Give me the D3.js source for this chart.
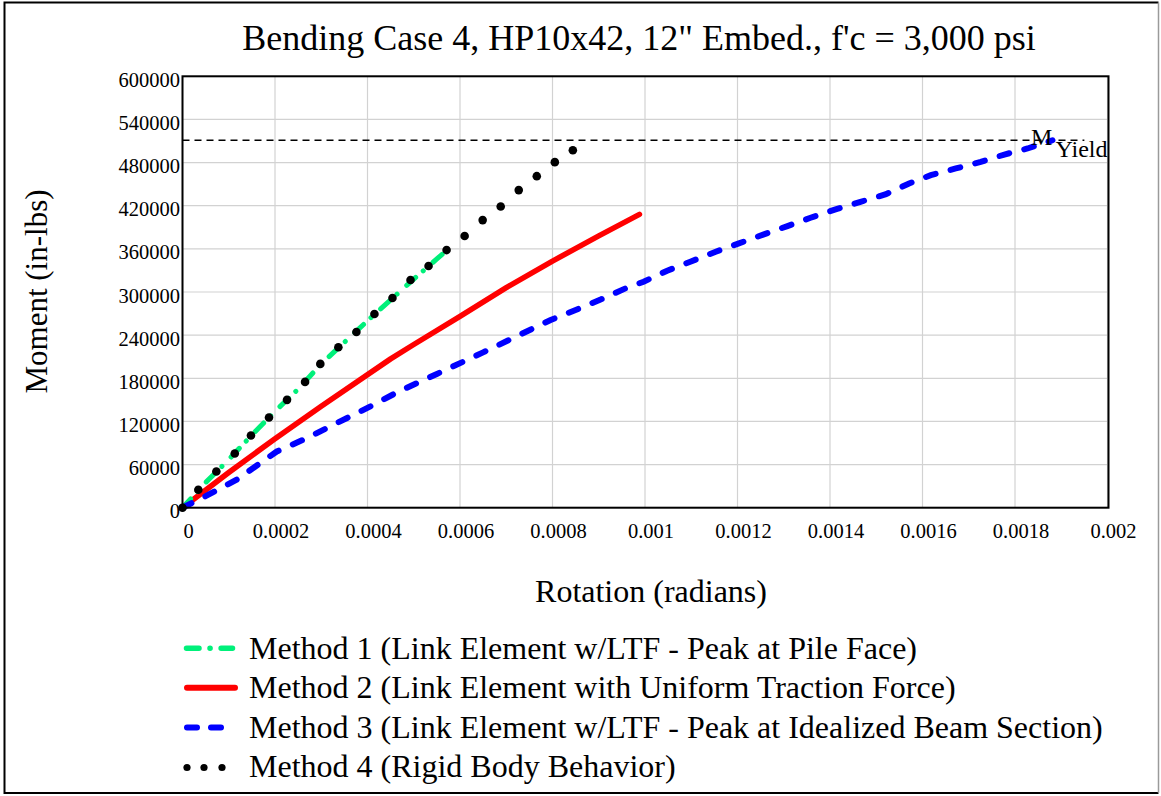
<!DOCTYPE html>
<html>
<head>
<meta charset="utf-8">
<script src="https://cdn.jsdelivr.net/npm/d3@7"></script>
<style>
  html, body { margin: 0; padding: 0; background: #fff; }
  svg { display: block; }
  text { font-family: "Liberation Serif", "Times New Roman", serif; fill: #000; }
</style>
</head>
<body>
<svg id="chart" width="1161" height="796"></svg>
<script>
// Tick values for both axes
const xTicks = [0, 0.0002, 0.0004, 0.0006, 0.0008, 0.001, 0.0012, 0.0014, 0.0016, 0.0018, 0.002];
const yTicks = [0, 60000, 120000, 180000, 240000, 300000, 360000, 420000, 480000, 540000, 600000];

// Method 1: link element w/LTF, peak at pile face
const m1Rot = [0, 0.00005, 0.0001, 0.00015, 0.0002, 0.00025, 0.0003, 0.00035, 0.0004, 0.00045, 0.0005, 0.00055, 0.000575];
const m1Mom = [0, 35000, 67000, 101000, 134000, 165000, 200000, 230000, 260000, 289000, 318000, 346000, 360000];

// Method 2: link element with uniform traction force
const m2Rot = [0, 0.0001, 0.0002, 0.0003, 0.00045, 0.0005, 0.0006, 0.0007, 0.0008, 0.0009, 0.000988];
const m2Mom = [0, 49000, 96000, 141000, 207000, 227000, 266000, 306000, 343000, 378000, 408000];

// Method 3: link element w/LTF, peak at idealized beam section
const m3Rot = [0, 0.00005, 0.000117, 0.000204, 0.000269, 0.000326, 0.000377, 0.00042, 0.000467, 0.00055, 0.00065,
  0.000796, 0.00085, 0.000904, 0.000958, 0.000997, 0.001048, 0.001098, 0.001153, 0.001203, 0.001257, 0.001308,
  0.001358, 0.001412, 0.001466, 0.001521, 0.001571, 0.001618, 0.001672, 0.001726, 0.001777, 0.001827, 0.001871, 0.001881];
const m3Mom = [0, 16000, 38900, 78200, 96800, 115300, 131500, 145400, 161500, 186000, 216000,
  261100, 275000, 289500, 305100, 314300, 329600, 342100, 356000, 367600, 380100, 391700,
  403200, 414900, 425400, 436100, 451000, 462500, 471800, 481000, 491200, 499600, 508800, 511100];

// Method 4: rigid body behavior
const m4Rot = [0, 0.0000342, 0.0000732, 0.000113, 0.000148, 0.000187, 0.000226, 0.000265, 0.000298, 0.000337,
  0.000376, 0.000415, 0.000454, 0.000493, 0.000532, 0.000571, 0.000610, 0.000649, 0.000688, 0.000727,
  0.000766, 0.000805, 0.000844];
const m4Mom = [0, 25000, 50400, 75400, 100400, 125400, 150000, 175000, 200000, 223200,
  244400, 269400, 291700, 316700, 336100, 358300, 377800, 400000, 419000, 441700,
  461100, 480600, 497200];

// Yield moment
const mYield = 511000;
const mYieldEnd = 0.00195;

const legendLabels = [
  "Method 1 (Link Element w/LTF - Peak at Pile Face)",
  "Method 2 (Link Element with Uniform Traction Force)",
  "Method 3 (Link Element w/LTF - Peak at Idealized Beam Section)",
  "Method 4 (Rigid Body Behavior)"
];

const svg = d3.select("#chart");
const W = 1161, H = 796;
const plot = { left: 182.5, right: 1107.5, top: 76.3, bottom: 507.7 };

const x = d3.scaleLinear().domain([0, 0.002]).range([plot.left, plot.right]);
const y = d3.scaleLinear().domain([0, 600000]).range([plot.bottom, plot.top]);

// outer frame
svg.append("rect").attr("x", 0).attr("y", 0).attr("width", W).attr("height", H).attr("fill", "#fff");
svg.append("path")
  .attr("d", `M1158.5,2.5 H4.5 V793 H1158.5`)
  .attr("fill", "none").attr("stroke", "#000").attr("stroke-width", 2);
svg.append("line").attr("x1", 1158.5).attr("x2", 1158.5).attr("y1", 2.5).attr("y2", 793)
  .attr("stroke", "#9a9a9a").attr("stroke-width", 1.5);

// title
svg.append("text").attr("x", 639).attr("y", 50).attr("text-anchor", "middle")
  .style("font-size", "36px")
  .text("Bending Case 4, HP10x42, 12\" Embed., f'c = 3,000 psi");

// grid
const grid = svg.append("g");
grid.selectAll("line.v").data(xTicks).enter().append("line")
  .attr("x1", d => x(d)).attr("x2", d => x(d)).attr("y1", plot.top).attr("y2", plot.bottom)
  .attr("stroke", "#d2d2d2").attr("stroke-width", 1.2);
grid.selectAll("line.h").data(yTicks).enter().append("line")
  .attr("y1", d => y(d)).attr("y2", d => y(d)).attr("x1", plot.left).attr("x2", plot.right)
  .attr("stroke", "#d2d2d2").attr("stroke-width", 1.2);

// axes (labels only; the frame draws the axis lines)
const xAxis = svg.append("g").attr("transform", `translate(5.5,${plot.bottom})`)
  .call(d3.axisBottom(x).tickValues(xTicks).tickSize(0).tickPadding(0).tickFormat(d => String(+d.toPrecision(6))));
xAxis.select(".domain").remove();
xAxis.selectAll("text").attr("dy", null).attr("y", 30.5).style("font-size", "20.5px")
  .style("font-family", "'Liberation Serif', serif");

const yAxis = svg.append("g").attr("transform", `translate(180,0)`)
  .call(d3.axisLeft(y).tickValues(yTicks).tickSize(0).tickPadding(0).tickFormat(d => String(d)));
yAxis.select(".domain").remove();
yAxis.selectAll("text").attr("dy", null).attr("y", 10).attr("x", 0).style("font-size", "20.5px")
  .style("font-family", "'Liberation Serif', serif");

// axis titles
svg.append("text").attr("x", 651).attr("y", 602).attr("text-anchor", "middle")
  .style("font-size", "32px").text("Rotation (radians)");
svg.append("text").attr("transform", "translate(47,291.5) rotate(-90)").attr("text-anchor", "middle")
  .style("font-size", "31px").text("Moment (in-lbs)");

// yield moment reference line
svg.append("line").attr("x1", plot.left).attr("x2", x(mYieldEnd)).attr("y1", y(mYield)).attr("y2", y(mYield))
  .attr("stroke", "#000").attr("stroke-width", 1.5).attr("stroke-dasharray", "7,5");

const line = d3.line().x(d => x(d[0])).y(d => y(d[1]));
const pairs = (a, b) => a.map((v, i) => [v, b[i]]);

// Method 2 (solid red)
svg.append("path").datum(pairs(m2Rot, m2Mom)).attr("d", line)
  .attr("fill", "none").attr("stroke", "#ff0000").attr("stroke-width", 5.5).attr("stroke-linecap", "round")
  .attr("stroke-linejoin", "round");

// Method 1 (green dash-dot)
svg.append("path").datum(pairs(m1Rot, m1Mom)).attr("d", line)
  .attr("fill", "none").attr("stroke", "#00f07a").attr("stroke-width", 5).attr("stroke-linecap", "round")
  .attr("stroke-dasharray", "12,10,0.1,13");

// Method 3 (blue dashed)
svg.append("path").datum(pairs(m3Rot, m3Mom)).attr("d", line)
  .attr("fill", "none").attr("stroke", "#0000ff").attr("stroke-width", 6).attr("stroke-linecap", "round")
  .attr("stroke-dasharray", "10,15.5");

// Method 4 (black dots)
svg.append("g").selectAll("circle").data(pairs(m4Rot, m4Mom)).enter().append("circle")
  .attr("cx", d => x(d[0])).attr("cy", d => y(d[1])).attr("r", 4.3).attr("fill", "#000");

// plot frame
svg.append("rect").attr("x", plot.left).attr("y", plot.top)
  .attr("width", plot.right - plot.left + 1).attr("height", plot.bottom - plot.top)
  .attr("fill", "none").attr("stroke", "#000").attr("stroke-width", 2);

// M_Yield label
const yl = svg.append("text").attr("x", 1031).attr("y", 145).style("font-size", "24px");
yl.append("tspan").text("M");
yl.append("tspan").attr("x", 1055.5).attr("y", 157).text("Yield");

// legend
const lg = svg.append("g");
const rowY = [648.3, 687.8, 727.4, 767.5];
const textY = [658.5, 698, 737.5, 777];
lg.append("line").attr("x1", 186.5).attr("x2", 232.5).attr("y1", rowY[0]).attr("y2", rowY[0])
  .attr("stroke", "#00f07a").attr("stroke-width", 5.5).attr("stroke-linecap", "round")
  .attr("stroke-dasharray", "12.5,11,0.1,11");
lg.append("line").attr("x1", 187).attr("x2", 235).attr("y1", rowY[1]).attr("y2", rowY[1])
  .attr("stroke", "#ff0000").attr("stroke-width", 6).attr("stroke-linecap", "round");
lg.append("line").attr("x1", 187).attr("x2", 234.5).attr("y1", rowY[2]).attr("y2", rowY[2])
  .attr("stroke", "#0000ff").attr("stroke-width", 6).attr("stroke-linecap", "round")
  .attr("stroke-dasharray", "10,14");
lg.selectAll("circle").data([187, 204, 222]).enter().append("circle")
  .attr("cx", d => d).attr("cy", rowY[3]).attr("r", 3.6).attr("fill", "#000");
lg.selectAll("text").data(legendLabels).enter().append("text")
  .attr("x", 249).attr("y", (d, i) => textY[i]).style("font-size", "32px").text(d => d);
</script>
</body>
</html>
